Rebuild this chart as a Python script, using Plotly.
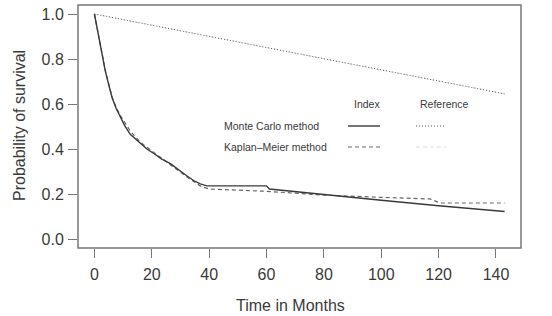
import plotly.graph_objects as go

# Index, Monte Carlo method (solid)
mc_idx_t = [0, 0.7, 1.5, 2.6, 3.8, 5.0, 6.2, 7.6, 9.1, 10.5, 12.5, 14.2, 16, 18.3, 20.7, 23.5, 26.5, 29.5, 32.3, 34.6, 36.9, 39.2, 60, 61, 80, 100, 120, 143]
mc_idx_s = [1.0, 0.95, 0.895, 0.815, 0.746, 0.685, 0.627, 0.58, 0.544, 0.505, 0.465, 0.445, 0.425, 0.4, 0.38, 0.355, 0.335, 0.305, 0.28, 0.26, 0.245, 0.236, 0.236, 0.222, 0.197, 0.172, 0.148, 0.122]

# Index, Kaplan-Meier method (dashed)
km_idx_t = [0, 0.7, 1.5, 2.6, 3.8, 5.0, 6.2, 7.6, 9.0, 12.5, 16, 20.7, 26.5, 32.3, 37, 40, 60, 80, 100, 117, 120.5, 143]
km_idx_s = [1.0, 0.955, 0.9, 0.82, 0.75, 0.69, 0.63, 0.585, 0.55, 0.48, 0.43, 0.385, 0.33, 0.275, 0.235, 0.222, 0.212, 0.195, 0.185, 0.178, 0.16, 0.16]

# Reference, Monte Carlo method (dotted)
mc_ref_t = [0, 20, 40, 60, 80, 100, 120, 143]
mc_ref_s = [1.0, 0.95, 0.90, 0.85, 0.80, 0.75, 0.70, 0.645]

# Reference, Kaplan-Meier method (very light dashed)
km_ref_t = [0, 20, 40, 60, 80, 100, 120, 143]
km_ref_s = [1.0, 0.951, 0.901, 0.851, 0.801, 0.751, 0.701, 0.646]

x_ticks = [0, 20, 40, 60, 80, 100, 120, 140]
y_ticks = [0.0, 0.2, 0.4, 0.6, 0.8, 1.0]

FONT = "Liberation Sans, Arial, sans-serif"
DARK = "#3a3a3a"
KMDASH = "4px,3px"
DOT = "1px,2px"

fig = go.Figure()
fig.add_trace(go.Scatter(x=km_ref_t, y=km_ref_s, mode="lines",
                         line=dict(color="#e2e2e2", width=1, dash=KMDASH)))
fig.add_trace(go.Scatter(x=mc_ref_t, y=mc_ref_s, mode="lines",
                         line=dict(color="#5a5a5a", width=1, dash=DOT)))
fig.add_trace(go.Scatter(x=km_idx_t, y=km_idx_s, mode="lines",
                         line=dict(color="#666666", width=1.2, dash=KMDASH)))
fig.add_trace(go.Scatter(x=mc_idx_t, y=mc_idx_s, mode="lines",
                         line=dict(color=DARK, width=1.4)))

L, R, T, B = 78, 31, 5, 68
W, H = 552, 316
pw, ph = W - L - R, H - T - B


def px(xp):
    return (xp - L) / pw


def py(yp):
    return (H - B - yp) / ph


# box
fig.add_shape(type="rect", xref="paper", yref="paper", x0=0, x1=1, y0=0, y1=1,
              line=dict(color="#777777", width=1.5))

# legend
ann = []
tf = dict(family=FONT, size=10.5, color=DARK)
ann.append(dict(x=px(367), y=py(104), text="Index", xanchor="center"))
ann.append(dict(x=px(444), y=py(104), text="Reference", xanchor="center"))
ann.append(dict(x=px(222), y=py(126), text="Monte Carlo method", xanchor="left"))
ann.append(dict(x=px(222), y=py(147), text="Kaplan\u2013Meier method", xanchor="left"))
for a in ann:
    a.update(xref="paper", yref="paper", showarrow=False, yanchor="middle", font=tf)
    fig.add_annotation(**a)

samples = [
    (348, 380, 126, DARK, "solid", 1.4),
    (416, 446, 126, "#5a5a5a", DOT, 1),
    (348, 380, 147, "#666666", KMDASH, 1.2),
    (416, 446, 147, "#dddddd", KMDASH, 1),
]
for x0, x1, yy, c, d, w in samples:
    fig.add_shape(type="line", xref="paper", yref="paper", x0=px(x0), x1=px(x1),
                  y0=py(yy), y1=py(yy), line=dict(color=c, dash=d, width=w))

# axis titles
fig.add_annotation(x=px(290), y=py(305), xref="paper", yref="paper", text="Time in Months",
                   showarrow=False, xanchor="center", yanchor="middle",
                   font=dict(family=FONT, size=16, color=DARK))
fig.add_annotation(x=px(20), y=py(126), xref="paper", yref="paper", text="Probability of survival",
                   showarrow=False, xanchor="center", yanchor="middle", textangle=-90,
                   font=dict(family=FONT, size=16, color=DARK))

fig.update_layout(
    width=W, height=H, margin=dict(l=L, r=R, t=T, b=B),
    paper_bgcolor="white", plot_bgcolor="white", showlegend=False,
    xaxis=dict(range=[-5.72, 148.72], tickvals=x_ticks, ticks="outside", ticklen=9,
               tickcolor="#777777", tickwidth=1.3, showgrid=False, zeroline=False, showline=False,
               tickfont=dict(family=FONT, size=16, color=DARK), ticklabelstandoff=3),
    yaxis=dict(range=[-0.04, 1.04], tickvals=y_ticks, tickformat=".1f", ticks="outside", ticklen=9,
               tickcolor="#777777", tickwidth=1.3, showgrid=False, zeroline=False, showline=False,
               tickfont=dict(family=FONT, size=16, color=DARK), ticklabelstandoff=1),
)

fig.write_html("out.html")
